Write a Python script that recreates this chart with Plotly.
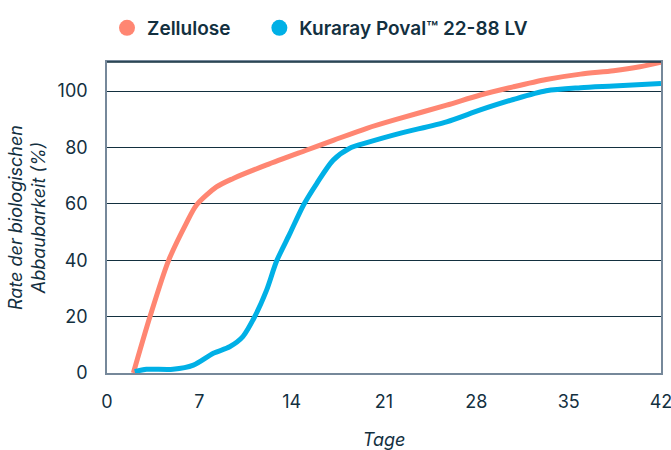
import plotly.graph_objects as go

# Data
zell_days = [2, 3.26, 4.65, 6.0, 6.79, 8.3, 9.57, 12.1, 15.1, 17.2, 19.7, 22.2, 25.75, 28.3, 30.8, 33.3, 35.9, 38.4, 40.4, 42]
zell_vals = [0, 20, 39.7, 53, 59.6, 66, 69, 73.8, 79, 82.6, 86.8, 90.3, 95, 98.6, 101.5, 104.1, 106, 107.2, 108.6, 110.2]

pova_days = [2.1, 3.0, 5.0, 6.55, 8.06, 9.3, 10.3, 11.2, 12.1, 12.86, 13.87, 14.9, 15.9, 17.15, 18.4, 19.7, 22.2, 25.75, 28.3, 30.8, 33.3, 35.9, 38.4, 42]
pova_vals = [0.5, 1.3, 1.3, 2.8, 7, 9.3, 12.9, 20, 29.4, 39.7, 49.5, 59.6, 67.2, 75.5, 79.7, 81.7, 85, 89.1, 93.3, 97, 100.1, 101.2, 101.8, 102.7]

x_ticks = [0, 7, 14, 21, 28, 35, 42]
y_ticks = [0, 20, 40, 60, 80, 100]

series_names = ["Zellulose", "Kuraray Poval™ 22-88 LV"]
colors = ["#FF8672", "#00B0E6"]

DARK = "#13303F"
GREY = "#76889A"

fig = go.Figure()
for name, xs, ys, c in [(series_names[0], zell_days, zell_vals, colors[0]),
                        (series_names[1], pova_days, pova_vals, colors[1])]:
    fig.add_trace(go.Scatter(x=xs, y=ys, mode="lines", name=name,
                             line=dict(color=c, width=5, shape="spline", smoothing=0.8),
                             showlegend=False, cliponaxis=False))
pad = ["\u00a0" * 5, ""]
for name, c, p in zip(series_names, colors, pad):
    fig.add_trace(go.Scatter(x=[None], y=[None], mode="markers", name=name + p,
                             marker=dict(color=c, size=22, symbol="circle")))

fig.add_shape(type="line", xref="x domain", yref="y domain", x0=0, x1=1, y0=1, y1=1,
              line=dict(color=DARK, width=1.3))

fig.update_layout(
    width=671, height=450,
    margin=dict(l=107, r=10, t=62, b=77, autoexpand=False),
    paper_bgcolor="white", plot_bgcolor="white",
    font=dict(family="Inter", color=DARK, size=18),
    legend=dict(orientation="h", x=0.0, xanchor="left", y=1 - 28 / 450, yanchor="middle",
                yref="container", font=dict(size=19, family="Inter", weight=600, color=DARK),
                itemsizing="trace", traceorder="normal"),
    xaxis=dict(range=[0, 42], tickvals=x_ticks, ticktext=[str(v) for v in x_ticks],
               showgrid=False, zeroline=False, showline=True, linecolor=GREY, linewidth=1.5,
               mirror=True, ticks="", ticklabelstandoff=12, automargin=False,
               ticklabeloverflow="allow",
               title=dict(text="<i>Tage</i>", font=dict(size=18), standoff=22)),
    yaxis=dict(range=[0, 110.3], tickvals=y_ticks, ticktext=[str(v) for v in y_ticks],
               showgrid=True, gridcolor=DARK, gridwidth=1, zeroline=False,
               showline=True, linecolor=GREY, linewidth=1.5, mirror=True, ticks="",
               ticklabelstandoff=14, automargin=False,
               title=dict(text="<i>Rate der biologischen<br>Abbaubarkeit (%)</i>",
                          font=dict(size=18), standoff=7)),
)

fig.write_html("out.html", config={"displayModeBar": False},
               post_script="document.body.style.margin='0';document.body.style.overflow='hidden';")
